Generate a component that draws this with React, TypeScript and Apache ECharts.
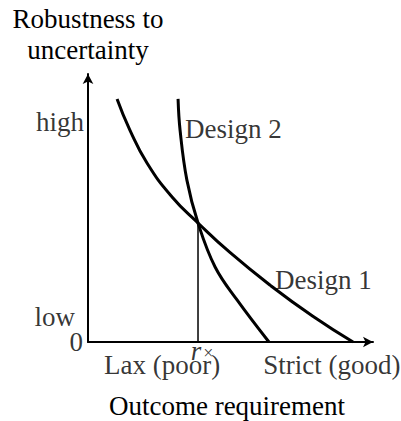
import React, { useEffect, useRef } from "react";
import * as echarts from "echarts";

// ---- data (abstract units: x 0..10, y 0..10) ----
const design1X = [1.02, 1.47, 2.07, 2.95, 3.86, 4.98, 6.39, 7.89, 9.3];
const design1Y = [9.07, 7.91, 6.68, 5.41, 4.44, 3.34, 2.12, 0.96, 0];
const design2X = [3.16, 3.23, 3.47, 3.86, 4.46, 5.23, 6.35];
const design2Y = [9.07, 7.91, 6.04, 4.44, 2.8, 1.57, 0];

const crossX = 3.86;
const crossY = 4.44;

const curveLabels = ["Design 1", "Design 2"];
const curveLabelX = [6.56, 3.4];
const curveLabelY = [2.31, 7.95];

const yTickLabels = ["high", "low", "0"];
const yTickValues = [8.2, 0.93, 0];

const xTickLabels = ["Lax (poor)", "Strict (good)"];
const xTickValues = [2.6, 8.56];

const xAxisName = "Outcome requirement";
const yAxisName = "Robustness to\nuncertainty";

const FONT = '"Liberation Serif", "Times New Roman", serif';
const FS = 27;

export default function App() {
  const ref = useRef<HTMLDivElement>(null);
  useEffect(() => {
    document.body.style.margin = "0";
    if (!ref.current) return;
    const chart = echarts.init(ref.current, null, { renderer: "svg" });
    const txt = { fontFamily: FONT, fontSize: FS, color: "#000", lineHeight: FS };
    const yDist = [4, 13, 5];
    const option: any = {
      animation: false,
      backgroundColor: "#fff",
      grid: { left: 88, right: 28, top: 74, bottom: 79, outerBoundsMode: "none" },
      xAxis: {
        type: "value",
        min: 0,
        max: 10,
        axisLine: {
          show: true,
          onZero: false,
          symbol: ["none", "arrow"],
          symbolSize: [8, 10],
          lineStyle: { color: "#000", width: 2 },
        },
        axisTick: { show: false },
        axisLabel: { show: false },
        splitLine: { show: false },
        name: xAxisName,
        nameLocation: "middle",
        nameGap: 50,
        nameTextStyle: { ...txt, padding: [0, 7, 0, 0] },
      },
      yAxis: {
        type: "value",
        min: 0,
        max: 10,
        axisLine: {
          show: true,
          onZero: false,
          symbol: ["none", "arrow"],
          symbolSize: [8, 10],
          lineStyle: { color: "#000", width: 2 },
        },
        axisTick: { show: false },
        axisLabel: { show: false },
        splitLine: { show: false },
        name: yAxisName,
        nameLocation: "end",
        nameGap: 9,
        nameTextStyle: { ...txt, lineHeight: 31, align: "center", verticalAlign: "bottom" },
      },
      series: [
        {
          type: "line",
          data: design1X.map((x, i) => [x, design1Y[i]]),
          smooth: 0.5,
          symbol: "none",
          lineStyle: { color: "#000", width: 3 },
          silent: true,
        },
        {
          type: "line",
          data: design2X.map((x, i) => [x, design2Y[i]]),
          smooth: 0.4,
          symbol: "none",
          lineStyle: { color: "#000", width: 3 },
          silent: true,
        },
        {
          type: "line",
          data: [
            [crossX, 0],
            [crossX, crossY],
          ],
          symbol: "none",
          lineStyle: { color: "#000", width: 1.5 },
          silent: true,
        },
        {
          type: "scatter",
          symbolSize: 0,
          silent: true,
          itemStyle: { color: "transparent" },
          data: [
            ...curveLabels.map((t, i) => ({
              value: [curveLabelX[i], curveLabelY[i]],
              label: { show: true, formatter: t, position: "right", distance: 0, ...txt },
            })),
            ...yTickLabels.map((t, i) => ({
              value: [0, yTickValues[i]],
              label: { show: true, formatter: t, position: "left", distance: yDist[i], ...txt },
            })),
            ...xTickLabels.map((t, i) => ({
              value: [xTickValues[i], 0],
              label: {
                show: true,
                formatter: t,
                position: "bottom",
                distance: 15,
                ...txt,
                lineHeight: 16,
              },
            })),
            {
              value: [crossX, 0],
              label: {
                show: true,
                position: "bottom",
                distance: 3,
                offset: [4, 0],
                formatter: "{r|r}{x|×}",
                rich: {
                  r: { fontFamily: FONT, fontSize: FS, fontStyle: "italic", color: "#000", lineHeight: 12 },
                  x: { fontFamily: FONT, fontSize: 18, color: "#000", lineHeight: 12, padding: [4, 0, 0, 2] },
                },
              },
            },
          ],
        },
      ],
    };
    chart.setOption(option);
    return () => chart.dispose();
  }, []);
  return (
    <div
      ref={ref}
      style={{ position: "absolute", left: 0, top: 0, width: 401, height: 421 }}
    />
  );
}
